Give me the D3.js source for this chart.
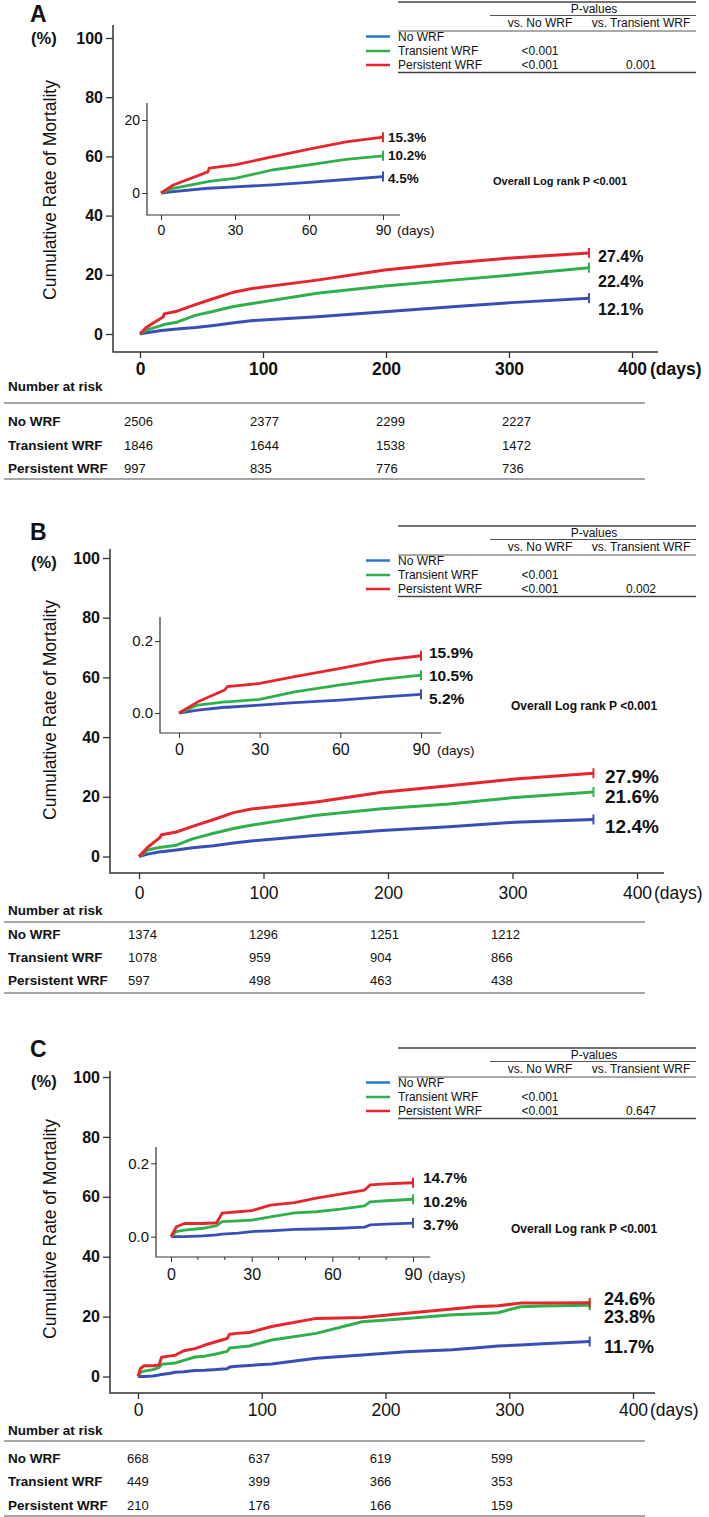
<!DOCTYPE html>
<html><head><meta charset="utf-8">
<script src="https://cdn.jsdelivr.net/npm/d3@7"></script>
<style>
body{margin:0;background:#fff}
svg{display:block}
text{font-family:"Liberation Sans",Arial,Helvetica,sans-serif;fill:#111}
</style></head><body>
<svg id="chart" width="709" height="1517"></svg>
<script>
// ---------- shared labels / ticks ----------
const groups = ["No WRF", "Transient WRF", "Persistent WRF"];
const yTicksMain = [0, 20, 40, 60, 80, 100];
const xTicksMain = [0, 100, 200, 300, 400];
const xTicksInset = [0, 30, 60, 90];
const xMinorTicksInset = [10, 20, 40, 50, 70, 80];
const yTicksInset = [0, 20];
const yTickLabelsInsetA = ["0", "20"];
const yTickLabelsInsetBC = ["0.0", "0.2"];
const riskDays = [0, 100, 200, 300];
const logRankText = "Overall Log rank P <0.001";

// ---------- Panel A data ----------
const daysA        = [0, 5, 19, 19.5, 30, 45, 60, 75, 90, 144, 199, 254, 302, 365];
const noWrfA       = [0, 0.4, 1.3, 1.3, 1.7, 2.2, 2.9, 3.7, 4.5, 5.8, 7.5, 9.2, 10.6, 12.1];
const transientA   = [0, 1.3, 3.1, 3.2, 4.0, 6.3, 7.7, 9.2, 10.2, 13.8, 16.2, 18.2, 19.9, 22.4];
const persistentA  = [0, 2.2, 5.8, 6.8, 7.7, 9.9, 12.0, 14.0, 15.3, 18.2, 21.6, 24.0, 25.7, 27.4];
const riskNoA = [2506, 2377, 2299, 2227];
const riskTrA = [1846, 1644, 1538, 1472];
const riskPeA = [997, 835, 776, 736];
const pVsNoA = ["", "<0.001", "<0.001"];
const pVsTrA = ["", "", "0.001"];

// ---------- Panel B data ----------
const daysB        = [0, 7, 17, 18, 30, 43, 60, 76, 90, 141, 195, 249, 302, 365];
const noWrfB       = [0, 0.8, 1.6, 1.6, 2.2, 2.9, 3.6, 4.5, 5.2, 7.0, 8.7, 10.0, 11.5, 12.4];
const transientB   = [0, 2.2, 3.1, 3.1, 3.8, 5.9, 7.8, 9.4, 10.5, 13.7, 16.0, 17.6, 19.8, 21.6];
const persistentB  = [0, 3.1, 6.4, 7.3, 8.2, 10.1, 12.4, 14.7, 15.9, 18.2, 21.5, 23.7, 26.0, 27.9];
const riskNoB = [1374, 1296, 1251, 1212];
const riskTrB = [1078, 959, 904, 866];
const riskPeB = [597, 498, 463, 438];
const pVsNoB = ["", "<0.001", "<0.001"];
const pVsTrB = ["", "", "0.002"];

// ---------- Panel C data ----------
const daysC        = [0, 2, 5, 12, 17, 19, 25, 30, 37, 46, 54, 63, 72, 74, 80, 90, 108, 144, 181, 217, 254, 272, 291, 309, 327, 365];
const noWrfC       = [0, 0, 0, 0.2, 0.5, 0.7, 1.0, 1.4, 1.6, 2.0, 2.1, 2.3, 2.6, 3.2, 3.4, 3.7, 4.2, 6.1, 7.2, 8.3, 8.9, 9.5, 10.2, 10.5, 10.9, 11.7];
const transientC   = [0, 1.4, 1.8, 2.3, 3.0, 4.1, 4.3, 4.5, 5.4, 6.5, 6.8, 7.5, 8.4, 9.5, 9.8, 10.2, 12.2, 14.4, 18.3, 19.4, 20.6, 20.9, 21.3, 23.3, 23.5, 23.8];
const persistentC  = [0, 2.7, 3.6, 3.6, 3.8, 6.4, 6.8, 7.1, 8.6, 9.3, 10.5, 11.6, 12.7, 14.1, 14.4, 14.7, 16.7, 19.4, 19.7, 21.1, 22.5, 23.3, 23.6, 24.5, 24.5, 24.6];
const riskNoC = [668, 637, 619, 599];
const riskTrC = [449, 399, 366, 353];
const riskPeC = [210, 176, 166, 159];
const pVsNoC = ["", "<0.001", "<0.001"];
const pVsTrC = ["", "", "0.647"];

// ---------- styles ----------
const curveColors  = ["#3a4fb6", "#2fb04b", "#e6262c"];
const legendColors = ["#2478c6", "#2fb04b", "#e6262c"];

// ---------- layouts (positions only) ----------
const layouts = [
  { letter: "A", letterY: 22, pctY: 44, titleY: 190,
    axisX: 113, axisTop: 25, axisBottom: 352, axisRight: 658,
    xRange: [140, 632], yRange: [334, 38], xBold: true, xFont: 17.5, xLabelDy: 23, yFont: 16, daysDx: 18,
    mainLabelX: 598, mainLabelDy: [17, 19, 9], mainLabelFont: 16,
    inAxisX: 147, inTop: 103, inBottom: 215, inRight: 400,
    inXRange: [161, 383], inYRange: [193, 120], inYLabels: yTickLabelsInsetA,
    inXFont: 14, inYFont: 14, inXLabelDy: 20, inDaysDx: 14, inMinor: false,
    inLabelX: 388, inLabelDy: [6, 4, 5], inLabelFont: 13.5,
    logX: 493, logY: 185, logFont: 11,
    legTop: 2,
    riskHeadY: 391, riskLine1: 403, riskRows: [426, 450, 473], riskLine2: 479, riskCols: [124, 502] },
  { letter: "B", letterY: 540, pctY: 568, titleY: 710,
    axisX: 110, axisTop: 549, axisBottom: 873, axisRight: 664,
    xRange: [139, 637], yRange: [856.5, 558], xBold: false, xFont: 17.5, xLabelDy: 26, yFont: 16, daysDx: 17,
    mainLabelX: 605, mainLabelDy: [14, 11, 10], mainLabelFont: 19,
    inAxisX: 160, inTop: 617, inBottom: 733, inRight: 441,
    inXRange: [179, 421], inYRange: [713, 641], inYLabels: yTickLabelsInsetBC,
    inXFont: 16, inYFont: 15, inXLabelDy: 22, inDaysDx: 16, inMinor: false,
    inLabelX: 429, inLabelDy: [10, 5.5, 2], inLabelFont: 15.5,
    logX: 511, logY: 710, logFont: 12,
    legTop: 526,
    riskHeadY: 915, riskLine1: 922, riskRows: [939, 962, 985], riskLine2: 993, riskCols: [128, 491] },
  { letter: "C", letterY: 1057, pctY: 1087, titleY: 1229,
    axisX: 110, axisTop: 1071, axisBottom: 1393, axisRight: 655,
    xRange: [138, 633], yRange: [1376.5, 1077], xBold: false, xFont: 17.5, xLabelDy: 23, yFont: 16, daysDx: 17,
    mainLabelX: 604, mainLabelDy: [12, 18, 2], mainLabelFont: 18,
    inAxisX: 156, inTop: 1147, inBottom: 1257, inRight: 430,
    inXRange: [171, 413], inYRange: [1236.7, 1163.3], inYLabels: yTickLabelsInsetBC,
    inXFont: 16, inYFont: 15, inXLabelDy: 23, inDaysDx: 15, inMinor: true,
    inLabelX: 423, inLabelDy: [7, 8, 0], inLabelFont: 15.5,
    logX: 511, logY: 1233, logFont: 12,
    legTop: 1048,
    riskHeadY: 1435, riskLine1: 1441, riskRows: [1463, 1486, 1510], riskLine2: 1516, riskCols: [127, 491] }
];

const panelData = [
  { days: daysA, series: [noWrfA, transientA, persistentA], risk: [riskNoA, riskTrA, riskPeA], pNo: pVsNoA, pTr: pVsTrA },
  { days: daysB, series: [noWrfB, transientB, persistentB], risk: [riskNoB, riskTrB, riskPeB], pNo: pVsNoB, pTr: pVsTrB },
  { days: daysC, series: [noWrfC, transientC, persistentC], risk: [riskNoC, riskTrC, riskPeC], pNo: pVsNoC, pTr: pVsTrC }
];

const svg = d3.select("#chart");
const fmt = d3.format(".1f");

function drawPanel(L, D) {
  const g = svg.append("g");

  // panel letter and unit
  g.append("text").attr("x", 30).attr("y", L.letterY).attr("font-size", 23).attr("font-weight", "bold").text(L.letter);
  g.append("text").attr("x", 31).attr("y", L.pctY).attr("font-size", 16.5).attr("font-weight", "bold").text("(%)");
  g.append("text").attr("transform", `translate(56,${L.titleY}) rotate(-90)`).attr("text-anchor", "middle")
    .attr("font-size", 17.5).text("Cumulative Rate of Mortality");

  // ---- main plot ----
  const x = d3.scaleLinear().domain([0, 400]).range(L.xRange);
  const y = d3.scaleLinear().domain([0, 100]).range(L.yRange);

  g.append("path").attr("d", `M${L.axisX},${L.axisTop}V${L.axisBottom}H${L.axisRight}`)
    .attr("fill", "none").attr("stroke", "#333").attr("stroke-width", 1.5);

  const ya = g.append("g").attr("transform", `translate(${L.axisX},0)`)
    .call(d3.axisLeft(y).tickValues(yTicksMain).tickSize(7).tickPadding(3));
  ya.select(".domain").remove();
  ya.selectAll(".tick line").attr("stroke", "#333").attr("stroke-width", 1.3);
  ya.selectAll(".tick text").attr("font-size", L.yFont).attr("font-weight", "bold")
    .attr("font-family", null).style("fill", "#111");

  const xa = g.append("g").attr("transform", `translate(0,${L.axisBottom})`)
    .call(d3.axisBottom(x).tickValues(xTicksMain).tickSize(6));
  xa.select(".domain").remove();
  xa.selectAll(".tick line").attr("stroke", "#333").attr("stroke-width", 1.3);
  xa.selectAll(".tick text").attr("y", L.xLabelDy).attr("dy", 0).attr("font-size", L.xFont)
    .attr("font-weight", L.xBold ? "bold" : "normal").attr("font-family", null).style("fill", "#111");
  g.append("text").attr("x", x(400) + L.daysDx).attr("y", L.axisBottom + L.xLabelDy)
    .attr("font-size", L.xFont).attr("font-weight", L.xBold ? "bold" : "normal").text("(days)");

  const lineMain = d3.line().x(d => x(d[0])).y(d => y(d[1]));
  D.series.forEach((s, i) => {
    const pts = D.days.map((d, j) => [d, s[j]]);
    g.append("path").attr("d", lineMain(pts)).attr("fill", "none")
      .attr("stroke", curveColors[i]).attr("stroke-width", 3).attr("stroke-linejoin", "round");
    const last = pts[pts.length - 1];
    g.append("line").attr("x1", x(last[0])).attr("x2", x(last[0]))
      .attr("y1", y(last[1]) - 5).attr("y2", y(last[1]) + 5)
      .attr("stroke", curveColors[i]).attr("stroke-width", 2);
    g.append("text").attr("x", L.mainLabelX).attr("y", y(last[1]) + L.mainLabelDy[i])
      .attr("font-size", L.mainLabelFont).attr("font-weight", "bold").text(fmt(last[1]) + "%");
  });

  // ---- inset ----
  const xi = d3.scaleLinear().domain([0, 90]).range(L.inXRange);
  const yi = d3.scaleLinear().domain([0, 20]).range(L.inYRange);
  g.append("path").attr("d", `M${L.inAxisX},${L.inTop}V${L.inBottom}H${L.inRight}`)
    .attr("fill", "none").attr("stroke", "#333").attr("stroke-width", 1.2);
  const yia = g.append("g").attr("transform", `translate(${L.inAxisX},0)`)
    .call(d3.axisLeft(yi).tickValues(yTicksInset).tickSize(5).tickPadding(2)
      .tickFormat((d, i) => L.inYLabels[i]));
  yia.select(".domain").remove();
  yia.selectAll(".tick line").attr("stroke", "#333");
  yia.selectAll(".tick text").attr("font-size", L.inYFont).attr("font-family", null).style("fill", "#111");
  const xia = g.append("g").attr("transform", `translate(0,${L.inBottom})`)
    .call(d3.axisBottom(xi).tickValues(xTicksInset).tickSize(5));
  xia.select(".domain").remove();
  xia.selectAll(".tick line").attr("stroke", "#333");
  xia.selectAll(".tick text").attr("y", L.inXLabelDy).attr("dy", 0).attr("font-size", L.inXFont)
    .attr("font-family", null).style("fill", "#111");
  if (L.inMinor) {
    g.selectAll(null).data(xMinorTicksInset).join("line")
      .attr("x1", d => xi(d)).attr("x2", d => xi(d)).attr("y1", L.inBottom).attr("y2", L.inBottom + 3)
      .attr("stroke", "#333");
  }
  g.append("text").attr("x", xi(90) + L.inDaysDx).attr("y", L.inBottom + L.inXLabelDy)
    .attr("font-size", 13.5).text("(days)");

  const lineIn = d3.line().x(d => xi(d[0])).y(d => yi(d[1]));
  D.series.forEach((s, i) => {
    const pts = D.days.map((d, j) => [d, s[j]]).filter(p => p[0] <= 90);
    g.append("path").attr("d", lineIn(pts)).attr("fill", "none")
      .attr("stroke", curveColors[i]).attr("stroke-width", 2.8).attr("stroke-linejoin", "round");
    const last = pts[pts.length - 1];
    g.append("line").attr("x1", xi(last[0])).attr("x2", xi(last[0]))
      .attr("y1", yi(last[1]) - 5).attr("y2", yi(last[1]) + 5)
      .attr("stroke", curveColors[i]).attr("stroke-width", 2);
    g.append("text").attr("x", L.inLabelX).attr("y", yi(last[1]) + L.inLabelDy[i])
      .attr("font-size", L.inLabelFont).attr("font-weight", "bold").text(fmt(last[1]) + "%");
  });

  g.append("text").attr("x", L.logX).attr("y", L.logY).attr("font-size", L.logFont)
    .attr("font-weight", "bold").text(logRankText);

  // ---- legend / p-value table ----
  const t = L.legTop;
  const c1 = 540, c2 = 641;
  g.append("line").attr("x1", 398).attr("x2", 696).attr("y1", t).attr("y2", t).attr("stroke", "#444").attr("stroke-width", 1.6);
  g.append("text").attr("x", 594).attr("y", t + 10.5).attr("text-anchor", "middle").attr("font-size", 12).text("P-values");
  g.append("line").attr("x1", 490).attr("x2", 696).attr("y1", t + 13.5).attr("y2", t + 13.5).attr("stroke", "#555").attr("stroke-width", 1);
  g.append("text").attr("x", c1).attr("y", t + 25).attr("text-anchor", "middle").attr("font-size", 12).text("vs. No WRF");
  g.append("text").attr("x", c2).attr("y", t + 25).attr("text-anchor", "middle").attr("font-size", 12).text("vs. Transient WRF");
  g.append("line").attr("x1", 398).attr("x2", 696).attr("y1", t + 29).attr("y2", t + 29).attr("stroke", "#555").attr("stroke-width", 1);
  const rowY = [t + 38.5, t + 53, t + 67];
  groups.forEach((name, i) => {
    g.append("line").attr("x1", 366).attr("x2", 390).attr("y1", rowY[i] - 4).attr("y2", rowY[i] - 4)
      .attr("stroke", legendColors[i]).attr("stroke-width", 2.5);
    g.append("text").attr("x", 398).attr("y", rowY[i]).attr("font-size", 12).text(name);
    g.append("text").attr("x", c1).attr("y", rowY[i]).attr("text-anchor", "middle").attr("font-size", 12).text(D.pNo[i]);
    g.append("text").attr("x", c2).attr("y", rowY[i]).attr("text-anchor", "middle").attr("font-size", 12).text(D.pTr[i]);
  });
  g.append("line").attr("x1", 398).attr("x2", 696).attr("y1", t + 70.5).attr("y2", t + 70.5).attr("stroke", "#444").attr("stroke-width", 1.6);

  // ---- number at risk ----
  const xr = d3.scaleLinear().domain([0, 300]).range(L.riskCols);
  g.append("text").attr("x", 8).attr("y", L.riskHeadY).attr("font-size", 13.5).attr("font-weight", "bold").text("Number at risk");
  g.append("line").attr("x1", 4).attr("x2", 645).attr("y1", L.riskLine1).attr("y2", L.riskLine1).attr("stroke", "#888").attr("stroke-width", 1.4);
  groups.forEach((name, i) => {
    g.append("text").attr("x", 8).attr("y", L.riskRows[i]).attr("font-size", 13.5).attr("font-weight", "bold").text(name);
    g.selectAll(null).data(D.risk[i]).join("text")
      .attr("x", (d, j) => xr(riskDays[j])).attr("y", L.riskRows[i]).attr("font-size", 13).text(d => d);
  });
  g.append("line").attr("x1", 4).attr("x2", 645).attr("y1", L.riskLine2).attr("y2", L.riskLine2).attr("stroke", "#888").attr("stroke-width", 1.4);
}

layouts.forEach((L, i) => drawPanel(L, panelData[i]));
</script>
</body></html>
